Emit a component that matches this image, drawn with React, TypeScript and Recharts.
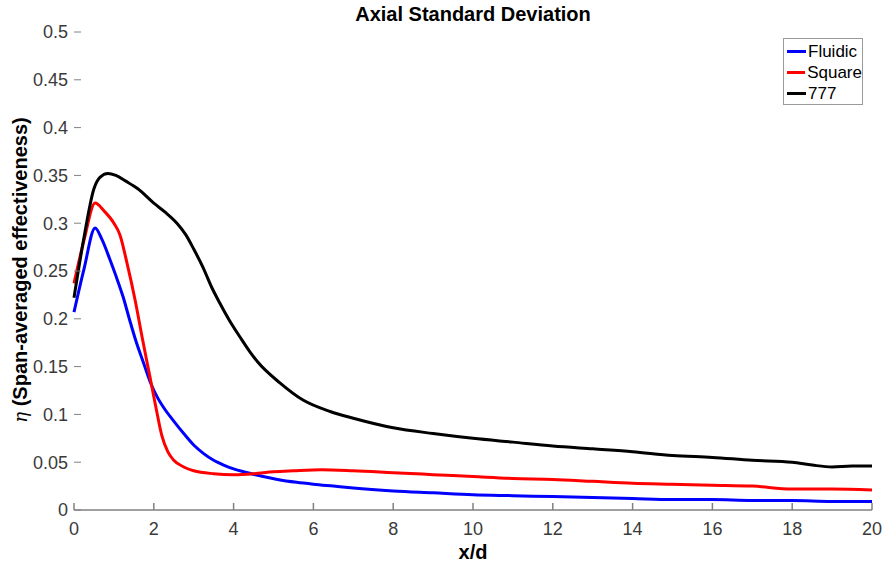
import React from 'react';
import { LineChart, Line, XAxis, YAxis } from 'recharts';

// x/d positions and values for each curve
const fluidicX = [
  0, 0.25, 0.53, 0.7, 0.9, 1.05, 1.23, 1.4, 1.55, 1.75, 1.9, 2.1, 2.25, 2.5, 2.75, 3, 3.25, 3.5,
  3.75, 4, 4.3, 4.74, 5.1, 5.58, 6, 6.5, 7, 8, 9, 10, 11, 12, 13, 14, 15, 16, 17, 18, 19, 20,
];
const fluidicY = [
  0.207, 0.252, 0.295, 0.283, 0.262, 0.245, 0.223, 0.198, 0.177, 0.153, 0.135, 0.117, 0.107, 0.093,
  0.08, 0.068, 0.059, 0.052, 0.047, 0.043, 0.0395, 0.035, 0.032, 0.029, 0.027, 0.025, 0.023, 0.02,
  0.018, 0.016, 0.015, 0.014, 0.013, 0.012, 0.011, 0.011, 0.01, 0.01, 0.009, 0.009,
];

const squareX = [
  0, 0.25, 0.53, 0.75, 1, 1.15, 1.33, 1.53, 1.72, 1.9, 2.05, 2.2, 2.35, 2.5, 2.75, 3, 3.5, 4, 4.5,
  5, 5.5, 6.2, 7, 8, 9, 10, 11, 12, 13, 14, 15, 16, 17, 18, 19, 20,
];
const squareY = [
  0.237, 0.282, 0.321, 0.313, 0.3, 0.288, 0.258, 0.22, 0.178, 0.14, 0.108, 0.078, 0.061, 0.052,
  0.045, 0.041, 0.038, 0.037, 0.038, 0.04, 0.041, 0.042, 0.041, 0.039, 0.037, 0.035, 0.033, 0.032,
  0.03, 0.028, 0.027, 0.026, 0.025, 0.022, 0.022, 0.021,
];

const b777X = [
  0, 0.25, 0.5, 0.65, 0.85, 1.05, 1.3, 1.6, 2, 2.3, 2.58, 2.8, 3, 3.23, 3.45, 3.66, 3.9, 4.16, 4.4,
  4.6, 5.16, 5.74, 6.42, 7, 8, 9, 10, 11, 12, 13, 14, 15, 16, 17, 18, 18.5, 19, 19.5, 20,
];
const b777Y = [
  0.222, 0.285, 0.336, 0.348, 0.352, 0.35, 0.344, 0.336, 0.321, 0.311, 0.3, 0.288, 0.273, 0.254,
  0.233, 0.216, 0.198, 0.181, 0.166, 0.155, 0.133, 0.115, 0.103, 0.096, 0.086, 0.08, 0.075, 0.071,
  0.067, 0.064, 0.061, 0.057, 0.055, 0.052, 0.05, 0.047, 0.045, 0.046, 0.046,
];

const xTicks = [0, 2, 4, 6, 8, 10, 12, 14, 16, 18, 20];
const yTicks = [0, 0.05, 0.1, 0.15, 0.2, 0.25, 0.3, 0.35, 0.4, 0.45, 0.5];

const seriesNames = ['Fluidic', 'Square', '777'];
const seriesColors = ['#0000ff', '#ff0000', '#000000'];

const toPoints = (xs: number[], ys: number[]) => xs.map((x, i) => ({ x, y: ys[i] }));
const series = [
  toPoints(fluidicX, fluidicY),
  toPoints(squareX, squareY),
  toPoints(b777X, b777Y),
];

const font = '"Liberation Sans", Arial, sans-serif';

const YLabel = () => (
  <text
    x={27}
    y={270}
    transform="rotate(-90, 27, 270)"
    textAnchor="middle"
    fontFamily={font}
    fontSize={20}
    fill="#000"
  >
    <tspan fontStyle="italic" fontFamily='"DejaVu Serif", serif' fontSize={18}>η</tspan>
    <tspan fontWeight="bold"> (Span-averaged effectiveness)</tspan>
  </text>
);

export default function App() {
  return (
    <div style={{ position: 'absolute', left: 0, top: 0, width: 884, height: 562, background: '#fff', fontFamily: font }}>
      <div style={{ position: 'absolute', left: 0, width: 946, top: 3, textAlign: 'center', fontSize: 20, fontWeight: 'bold', color: '#000' }}>
        Axial Standard Deviation
      </div>
      <LineChart width={884} height={562} margin={{ top: 32, right: 12, bottom: 0, left: 0 }}>
        <XAxis
          dataKey="x"
          type="number"
          domain={[0, 20]}
          ticks={xTicks}
          allowDuplicatedCategory={false}
          height={52}
          stroke="#808080"
          strokeWidth={1.5}
          tickSize={-7}
          tickMargin={19}
          tick={{ fill: '#3a3a3a', fontSize: 18, fontFamily: font }}
          label={{ value: 'x/d', position: 'insideBottom', offset: 3, fontSize: 20, fontWeight: 'bold', fill: '#000', fontFamily: font }}
        />
        <YAxis
          type="number"
          domain={[0, 0.5]}
          ticks={yTicks}
          width={74}
          axisLine={false}
          tickLine={{ stroke: '#808080' }}
          tickSize={-7}
          tickMargin={13}
          tickFormatter={(v: number) => String(Math.round(v * 100) / 100)}
          tick={{ fill: '#3a3a3a', fontSize: 18, fontFamily: font }}
          label={{ content: () => <YLabel /> }}
        />
        {series.map((pts, i) => (
          <Line
            key={seriesNames[i]}
            data={pts}
            dataKey="y"
            name={seriesNames[i]}
            type="monotone"
            stroke={seriesColors[i]}
            strokeWidth={3}
            dot={false}
            isAnimationActive={false}
          />
        ))}
      </LineChart>
      <div
        style={{
          position: 'absolute',
          left: 783,
          top: 38,
          width: 80,
          height: 67,
          border: '1px solid #9a9a9a',
          background: '#fff',
          fontSize: 17,
          lineHeight: '21px',
          paddingTop: 2,
          boxSizing: 'border-box',
        }}
      >
        {seriesNames.map((n, i) => (
          <div key={n} style={{ display: 'flex', alignItems: 'center', height: 21 }}>
            <span style={{ display: 'inline-block', width: 19, height: 3, background: seriesColors[i], marginLeft: 3, marginRight: 2 }} />
            <span>{n}</span>
          </div>
        ))}
      </div>
    </div>
  );
}
